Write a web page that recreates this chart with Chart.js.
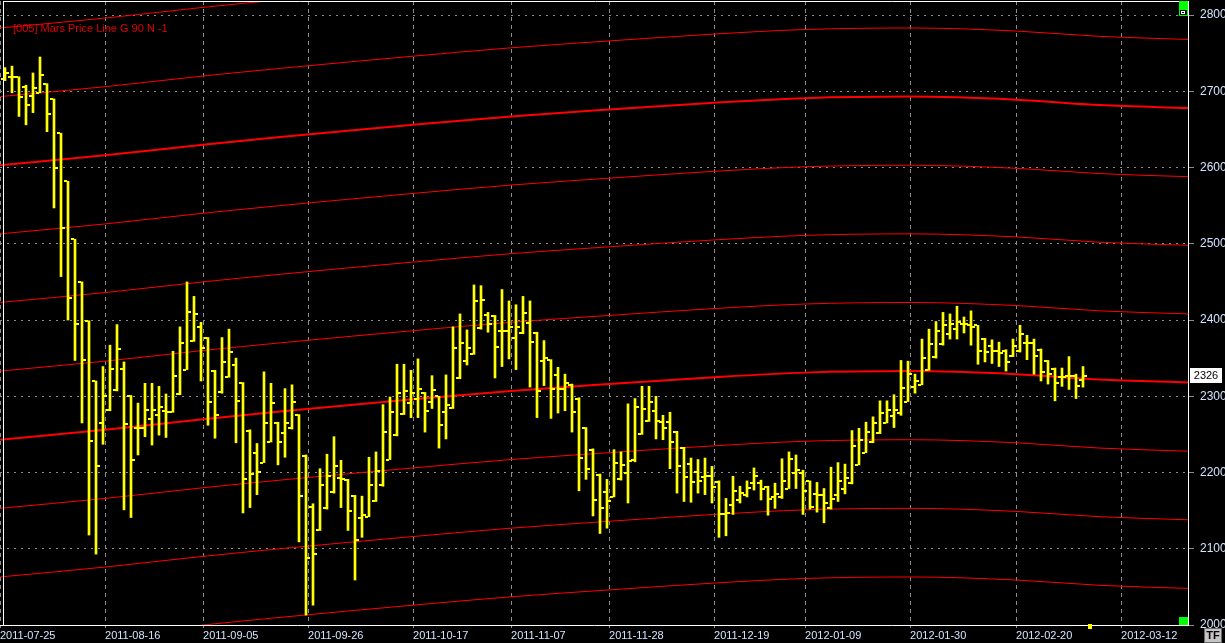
<!DOCTYPE html>
<html>
<head>
<meta charset="utf-8">
<script src="https://cdn.jsdelivr.net/npm/chart.js@4.4.1/dist/chart.umd.min.js"></script>
<style>
  html, body { margin: 0; padding: 0; background: #000; overflow: hidden; }
  #wrap { width: 1225px; height: 643px; position: relative; }
</style>
</head>
<body>
<div id="wrap"><canvas id="chart"></canvas></div>
<script>
// date grid lines (positions in bar units) and their labels
const dateLabels = ['2011-07-25', '2011-08-16', '2011-09-05', '2011-09-26', '2011-10-17', '2011-11-07',
  '2011-11-28', '2011-12-19', '2012-01-09', '2012-01-30', '2012-02-20', '2012-03-12'];
const dateTickIdx = [-0.714, 14.29, 28.29, 43.29, 58.29, 72.29, 86.29, 101.29, 114.29, 129.29, 144.43, 159.43];
const priceTicks = [2000, 2100, 2200, 2300, 2400, 2500, 2600, 2700, 2800];

// daily OHLC bars
const opens = [2716, 2719, 2719, 2706, 2694, 2698, 2709, 2690, 2645, 2582,
  2506, 2450, 2399, 2320, 2265, 2282, 2308, 2336, 2300, 2258,
  2258, 2270, 2276, 2281, 2279, 2303, 2335, 2372, 2391, 2376,
  2333, 2305, 2325, 2341, 2318, 2255, 2225, 2213, 2240, 2265,
  2252, 2258, 2275, 2222, 2155, 2125, 2153, 2174, 2193, 2190,
  2169, 2140, 2142, 2162, 2183, 2217, 2249, 2277, 2291, 2297,
  2304, 2292, 2300, 2280, 2284, 2324, 2346, 2356, 2390, 2407,
  2405, 2385, 2385, 2377, 2383, 2396, 2383, 2346, 2347, 2328,
  2309, 2315, 2297, 2258, 2230, 2197, 2175, 2168, 2192, 2200,
  2216, 2251, 2268, 2281, 2266, 2266, 2253, 2232, 2211, 2201,
  2194, 2196, 2187, 2146, 2158, 2164, 2170, 2186, 2186, 2181,
  2168, 2168, 2179, 2200, 2200, 2189, 2172, 2171, 2154, 2170,
  2179, 2186, 2210, 2226, 2240, 2252, 2265, 2274, 2278, 2293,
  2312, 2315, 2334, 2351, 2369, 2382, 2388, 2395, 2393, 2393,
  2375, 2366, 2360, 2360, 2353, 2359, 2370, 2370, 2361, 2346,
  2336, 2325, 2327, 2327, 2321];
const highs = [2731, 2733, 2719, 2708, 2724, 2745, 2710, 2690, 2645, 2582,
  2506, 2450, 2399, 2320, 2339, 2367, 2394, 2345, 2301, 2291,
  2317, 2317, 2313, 2303, 2359, 2391, 2450, 2431, 2397, 2377,
  2334, 2377, 2388, 2350, 2318, 2256, 2238, 2332, 2317, 2266,
  2310, 2315, 2276, 2223, 2159, 2205, 2224, 2247, 2216, 2191,
  2170, 2169, 2220, 2227, 2289, 2299, 2342, 2342, 2334, 2349,
  2305, 2327, 2300, 2328, 2391, 2408, 2387, 2446, 2445, 2410,
  2406, 2440, 2425, 2420, 2431, 2425, 2384, 2373, 2348, 2338,
  2329, 2316, 2298, 2259, 2231, 2198, 2191, 2230, 2227, 2290,
  2297, 2313, 2313, 2300, 2275, 2279, 2254, 2233, 2219, 2217,
  2219, 2208, 2189, 2166, 2195, 2182, 2189, 2206, 2190, 2182,
  2186, 2218, 2227, 2223, 2203, 2189, 2187, 2179, 2207, 2213,
  2211, 2255, 2258, 2266, 2273, 2294, 2294, 2302, 2347, 2346,
  2329, 2375, 2388, 2398, 2410, 2408, 2418, 2404, 2412, 2393,
  2376, 2374, 2371, 2361, 2375, 2393, 2380, 2375, 2362, 2347,
  2337, 2337, 2352, 2329, 2339];
const lows = [2714, 2698, 2667, 2656, 2672, 2698, 2647, 2547, 2457, 2400,
  2347, 2265, 2118, 2093, 2237, 2281, 2307, 2151, 2141, 2223,
  2247, 2236, 2249, 2246, 2279, 2302, 2335, 2372, 2320, 2262,
  2245, 2304, 2325, 2239, 2147, 2154, 2171, 2213, 2240, 2210,
  2220, 2257, 2109, 2013, 2026, 2124, 2152, 2173, 2154, 2124,
  2059, 2115, 2142, 2162, 2182, 2217, 2248, 2276, 2272, 2272,
  2253, 2284, 2232, 2244, 2284, 2323, 2341, 2355, 2388, 2384,
  2324, 2339, 2349, 2335, 2382, 2312, 2272, 2314, 2271, 2278,
  2281, 2253, 2176, 2191, 2143, 2120, 2127, 2168, 2190, 2160,
  2214, 2250, 2267, 2244, 2243, 2205, 2173, 2162, 2161, 2173,
  2171, 2160, 2115, 2117, 2145, 2160, 2168, 2177, 2164, 2144,
  2153, 2166, 2179, 2179, 2145, 2152, 2148, 2134, 2152, 2162,
  2172, 2185, 2210, 2226, 2239, 2251, 2265, 2259, 2275, 2293,
  2304, 2315, 2334, 2350, 2367, 2375, 2375, 2383, 2367, 2342,
  2345, 2343, 2339, 2333, 2352, 2358, 2348, 2329, 2320, 2316,
  2294, 2313, 2309, 2297, 2312];
const closes = [2724, 2719, 2693, 2682, 2704, 2721, 2670, 2600, 2521, 2429,
  2395, 2348, 2241, 2209, 2300, 2336, 2362, 2264, 2217, 2258,
  2282, 2282, 2286, 2279, 2327, 2370, 2410, 2408, 2363, 2292,
  2276, 2345, 2358, 2294, 2191, 2198, 2201, 2265, 2291, 2240,
  2265, 2292, 2169, 2088, 2093, 2183, 2196, 2208, 2192, 2149,
  2111, 2144, 2183, 2202, 2253, 2280, 2304, 2307, 2304, 2310,
  2281, 2308, 2262, 2288, 2363, 2370, 2363, 2425, 2426, 2395,
  2364, 2385, 2391, 2391, 2409, 2371, 2307, 2350, 2310, 2310,
  2317, 2279, 2219, 2204, 2164, 2154, 2162, 2213, 2210, 2215,
  2286, 2283, 2293, 2267, 2258, 2240, 2209, 2194, 2187, 2189,
  2196, 2181, 2145, 2147, 2176, 2173, 2180, 2195, 2178, 2165,
  2172, 2189, 2218, 2203, 2176, 2155, 2171, 2160, 2165, 2189,
  2193, 2235, 2242, 2253, 2265, 2278, 2282, 2282, 2311, 2329,
  2320, 2350, 2369, 2386, 2394, 2395, 2397, 2395, 2391, 2359,
  2358, 2359, 2357, 2345, 2366, 2382, 2370, 2353, 2332, 2329,
  2317, 2325, 2327, 2313, 2326];

// Mars price line: base curve, plus its 90-point harmonics
const marsIdx = [-0.714, 14.29, 28.29, 39.29, 58.29, 72.29, 86.29, 101.29, 114.29, 129.29, 144.43, 156.43, 169];
const marsBase = [2243, 2256, 2270, 2280, 2296, 2307, 2316, 2325, 2331, 2333, 2329, 2322, 2318];
const marsOffsets = [-270, -180, -90, 0, 90, 180, 270, 360, 450, 540];
const marsThick = [0, 360];
const legendText = '[005] Mars Price Line G 90 N -1';

const YELLOW = '#ffff00';
const RED = '#ff0000';
const GRID = '#8c8c8c';
const LABEL = '#d4e4ff';

function tickImage(fromCol) {
  const c = document.createElement('canvas');
  c.width = 10;
  c.height = 2;
  const g = c.getContext('2d');
  g.fillStyle = YELLOW;
  g.fillRect(fromCol, 0, 3, 2);
  return c;
}

// no label overhang padding: the plot should run right up to the edges
function noPad(s) {
  s.paddingTop = 0;
  s.paddingBottom = 0;
  s.paddingLeft = 0;
  s.paddingRight = 0;
}

const marsSets = marsOffsets.map(off => ({
  type: 'line',
  data: marsIdx.map((x, j) => ({ x: x, y: marsBase[j] + off })),
  borderColor: RED,
  borderWidth: marsThick.includes(off) ? 2 : 1,
  pointRadius: 0,
  cubicInterpolationMode: 'monotone',
  order: 3
}));

const rangeSet = {
  type: 'bar',
  data: highs.map((h, i) => ({ x: i, y: [lows[i], h] })),
  backgroundColor: YELLOW,
  borderWidth: 0,
  barThickness: 2,
  grouped: false,
  order: 1
};

const openSet = {
  type: 'line',
  showLine: false,
  data: opens.map((o, i) => ({ x: i, y: o })),
  pointStyle: tickImage(1),
  pointRadius: 3,
  order: 0
};

const closeSet = {
  type: 'line',
  showLine: false,
  data: closes.map((c, i) => ({ x: i, y: c })),
  pointStyle: tickImage(6),
  pointRadius: 3,
  order: 0
};

const extras = {
  id: 'extras',
  afterDatasetsDraw(chart) {
    const ctx = chart.ctx;
    const a = chart.chartArea;
    const y = chart.scales.y;
    const x = chart.scales.x;
    ctx.save();

    // indicator name
    ctx.font = '11px "Liberation Sans", Arial, sans-serif';
    ctx.fillStyle = '#e00000';
    ctx.textBaseline = 'alphabetic';
    ctx.textAlign = 'left';
    ctx.fillText(legendText, a.left + 13, a.top + 31);

    // frame
    ctx.strokeStyle = '#ffffff';
    ctx.lineWidth = 1;
    ctx.beginPath();
    ctx.moveTo(a.left + 3.5, a.top);
    ctx.lineTo(a.left + 3.5, a.bottom);
    ctx.moveTo(a.left + 3, a.top + 0.5);
    ctx.lineTo(a.right, a.top + 0.5);
    ctx.moveTo(a.right + 0.5, a.top);
    ctx.lineTo(a.right + 0.5, a.bottom + 1);
    ctx.moveTo(a.left, a.bottom + 0.5);
    ctx.lineTo(a.right + 1, a.bottom + 0.5);
    ctx.stroke();

    // corner buttons
    ctx.fillStyle = '#00ff00';
    ctx.fillRect(a.right - 9, a.top, 9, 8);
    ctx.fillRect(a.right - 9, a.top + 8, 9, 7);
    ctx.fillStyle = '#000';
    ctx.fillRect(a.right - 8, a.top + 9, 7, 5);
    ctx.strokeStyle = '#fff';
    ctx.strokeRect(a.right - 6.5, a.top + 10.5, 3, 2);
    ctx.fillStyle = '#00ff00';
    ctx.fillRect(a.right - 9, a.bottom - 8, 9, 8);

    // last bar marker on the time axis
    const lastX = x.getPixelForValue(opens.length);
    ctx.fillStyle = YELLOW;
    ctx.fillRect(Math.round(lastX) - 2, a.bottom - 1, 4, 5);

    // last price box
    const last = closes[closes.length - 1];
    const py = Math.round(y.getPixelForValue(last));
    ctx.fillStyle = '#ffffff';
    ctx.fillRect(a.right + 2, py - 8, 32, 15);
    ctx.fillStyle = '#000';
    ctx.font = '11px "Liberation Sans", Arial, sans-serif';
    ctx.textAlign = 'center';
    ctx.textBaseline = 'middle';
    ctx.fillText(String(last), a.right + 18, py);

    // TF button
    ctx.fillStyle = '#c4c4c4';
    ctx.fillRect(1204, 628, 18, 15);
    ctx.strokeStyle = '#6a6a6a';
    ctx.strokeRect(1204.5, 628.5, 17, 14);
    ctx.fillStyle = '#000';
    ctx.font = 'bold 11px "Liberation Sans", Arial, sans-serif';
    ctx.fillText('TF', 1213, 636);
    ctx.restore();
  }
};

new Chart(document.getElementById('chart'), {
  type: 'line',
  data: { datasets: [...marsSets, rangeSet, openSet, closeSet] },
  options: {
    responsive: true,
    maintainAspectRatio: false,
    devicePixelRatio: 1,
    animation: false,
    events: [],
    layout: { autoPadding: false, padding: { top: 1, left: 0, right: 0, bottom: 0 } },
    plugins: { legend: { display: false }, tooltip: { enabled: false }, title: { display: false } },
    scales: {
      x: {
        type: 'linear',
        min: -5 / 7,
        max: 1183 / 7,
        offset: false,
        afterBuildTicks: s => { s.ticks = dateTickIdx.map(v => ({ value: v })); },
        afterFit: s => { s.height = 18; noPad(s); },
        grid: { color: GRID, lineWidth: 1, offset: false, drawTicks: true, tickLength: 3, tickColor: GRID },
        border: { display: false, dash: [4, 4] },
        ticks: {
          align: 'start',
          autoSkip: false,
          maxRotation: 0,
          minRotation: 0,
          padding: 1,
          color: LABEL,
          font: { family: '"Liberation Sans", Arial, sans-serif', size: 11 },
          callback: (v, i) => dateLabels[i]
        }
      },
      y: {
        type: 'linear',
        position: 'right',
        min: 2000,
        max: 2818.4,
        afterBuildTicks: s => { s.ticks = priceTicks.map(v => ({ value: v })); },
        afterFit: s => { s.width = 37; noPad(s); },
        grid: { color: GRID, lineWidth: 1, drawTicks: true, tickLength: 6, tickColor: GRID, tickBorderDash: [] },
        border: { display: false, dash: [2, 5] },
        ticks: {
          padding: 6,
          color: LABEL,
          font: { family: '"Liberation Sans", Arial, sans-serif', size: 12 },
          callback: v => String(v)
        }
      }
    }
  },
  plugins: [extras]
});
</script>
</body>
</html>
